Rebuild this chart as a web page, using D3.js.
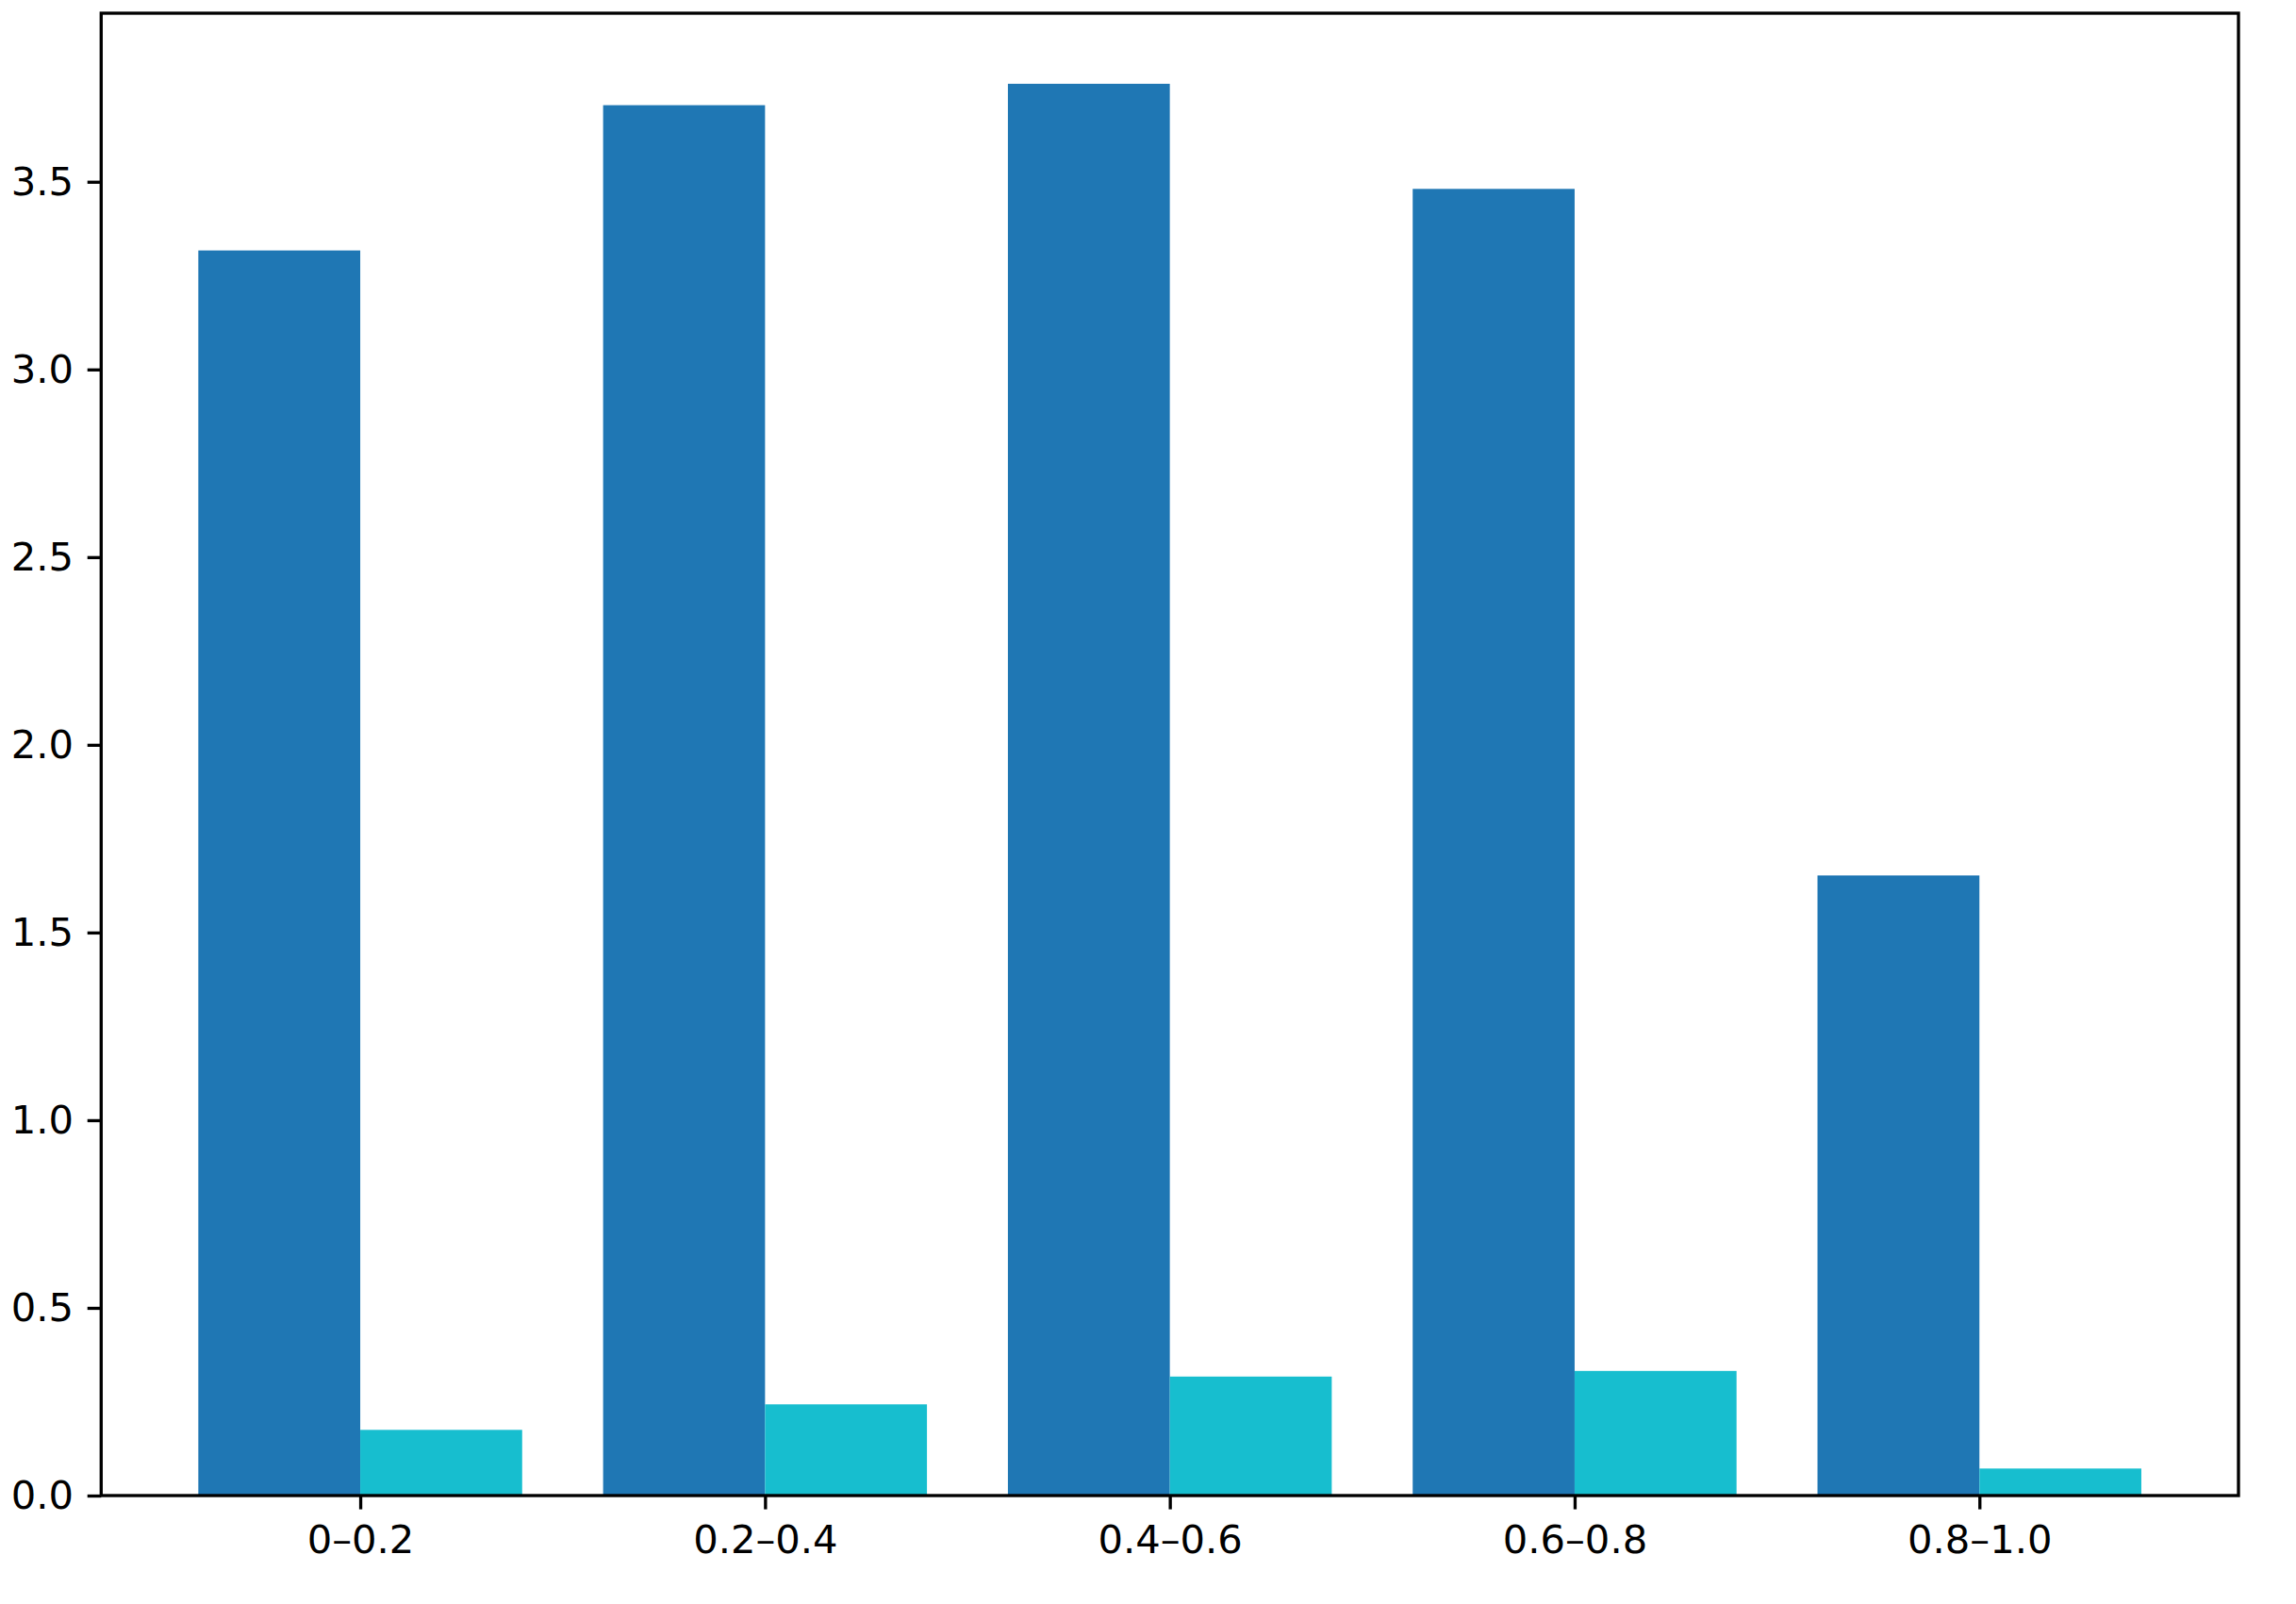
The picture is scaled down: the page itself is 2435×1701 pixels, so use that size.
<!DOCTYPE html>
<html>
<head>
<meta charset="utf-8">
<script src="https://cdn.jsdelivr.net/npm/d3@7"></script>
<style>
  html, body { margin: 0; padding: 0; background: #fff; }
  text { font-family: 'DejaVu Sans', sans-serif; }
</style>
</head>
<body>
<div id="chart"></div>
<script>
const categories = ['0\u20130.2', '0.2\u20130.4', '0.4\u20130.6', '0.6\u20130.8', '0.8\u20131.0']
const seriesA = [3.317, 3.704, 3.761, 3.481, 1.652]
const seriesB = [0.175, 0.243, 0.317, 0.332, 0.072]
const yTicks = [0, 0.5, 1.0, 1.5, 2.0, 2.5, 3.0, 3.5]

const W = 2435
const H = 1701
const margin = { top: 14, left: 107.3, right: W - 2374, bottom: H - 1586 }
const width = W - margin.left - margin.right
const height = H - margin.top - margin.bottom

const fontSize = 41.7
const tickLen = 14.6
const lw = 3.33
const barW = 0.4

const svg = d3
  .select('#chart')
  .append('svg')
  .attr('width', W)
  .attr('height', H)
  .append('g')
  .attr('transform', 'translate(' + margin.left + ',' + margin.top + ')')

// matplotlib style margins: 5% on x, 5% on top of y
const idx = categories.map((d, i) => i)
const xMin = -barW, xMax = categories.length - 1 + barW
const xPad = (xMax - xMin) * 0.05
const x = d3.scaleLinear().domain([xMin - xPad, xMax + xPad]).range([0, width])
const yMax = d3.max(seriesA.concat(seriesB)) * 1.05
const y = d3.scaleLinear().domain([0, yMax]).range([height, 0])

// bars
svg.selectAll('.bar-a')
  .data(seriesA)
  .enter().append('rect')
  .attr('class', 'bar-a')
  .attr('x', (d, i) => x(i - barW))
  .attr('width', (d, i) => x(i) - x(i - barW))
  .attr('y', d => y(d))
  .attr('height', d => y(0) - y(d))
  .attr('fill', '#1f77b4')

svg.selectAll('.bar-b')
  .data(seriesB)
  .enter().append('rect')
  .attr('class', 'bar-b')
  .attr('x', (d, i) => x(i))
  .attr('width', (d, i) => x(i + barW) - x(i))
  .attr('y', d => y(d))
  .attr('height', d => y(0) - y(d))
  .attr('fill', '#17becf')

// axes
const xAxis = d3.axisBottom(x)
  .tickValues(idx)
  .tickFormat(i => categories[i])
  .tickSize(tickLen)
  .tickPadding(14.6)
const yAxis = d3.axisLeft(y)
  .tickValues(yTicks)
  .tickFormat(d3.format('.1f'))
  .tickSize(tickLen)
  .tickPadding(14.6)

const gx = svg.append('g')
  .attr('transform', 'translate(0,' + height + ')')
  .call(xAxis)
const gy = svg.append('g').call(yAxis)

for (const g of [gx, gy]) {
  g.select('.domain').remove()
  g.selectAll('.tick line').attr('stroke', '#000').attr('stroke-width', lw)
  g.selectAll('.tick text')
    .attr('fill', '#000')
    .style('font-size', fontSize + 'px')
    .style('font-family', "'DejaVu Sans', sans-serif")
}
gx.selectAll('.tick text').attr('dy', '0.76em')

// frame
svg.append('rect')
  .attr('x', 0)
  .attr('y', 0)
  .attr('width', width)
  .attr('height', height)
  .attr('fill', 'none')
  .attr('stroke', '#000')
  .attr('stroke-width', lw)
</script>
</body>
</html>
